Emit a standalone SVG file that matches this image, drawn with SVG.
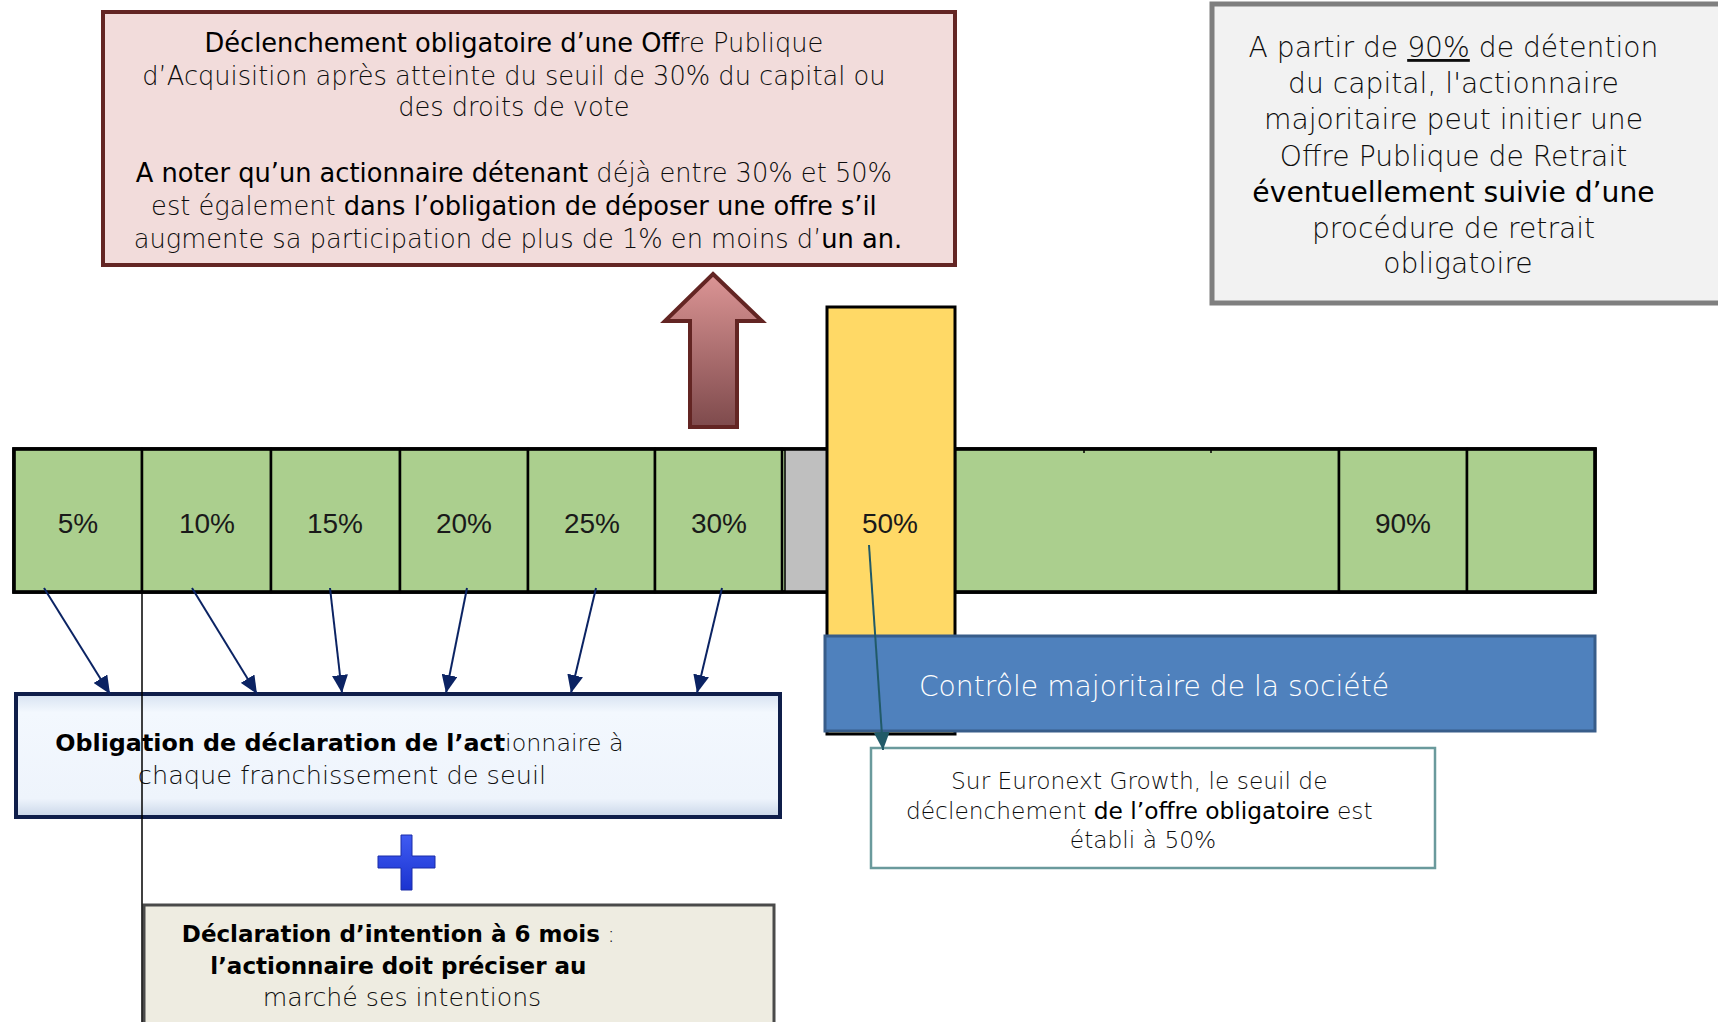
<svg xmlns="http://www.w3.org/2000/svg" width="1718" height="1022" viewBox="0 0 1718 1022">
<defs>
<style>
text{font-family:"DejaVu Sans","Liberation Sans",sans-serif;}
.l{fill:#0d0d0d;font-weight:300;}
.d{fill:#000;}
.b{fill:#000;font-weight:bold;}
.cell{fill:#ABCF8E;stroke:#000;stroke-width:2.5;}
.lbl{font-family:"Liberation Sans",Arial,sans-serif;font-size:28px;fill:#1a1a1a;text-anchor:middle;}
.nav{stroke:#0B2363;stroke-width:2;fill:none;marker-end:url(#an);}
</style>
<marker id="an" markerUnits="userSpaceOnUse" markerWidth="20" markerHeight="16" refX="18" refY="8" orient="auto">
<path d="M0,0 L18,8 L0,16 Z" fill="#0B2363"/>
</marker>
<marker id="at" markerUnits="userSpaceOnUse" markerWidth="20" markerHeight="16" refX="18" refY="8" orient="auto">
<path d="M0,0 L18,8 L0,16 Z" fill="#215A68"/>
</marker>
<linearGradient id="gArrow" x1="0" y1="0" x2="0" y2="1">
<stop offset="0" stop-color="#DC9595"/>
<stop offset="1" stop-color="#7E4A4C"/>
</linearGradient>
<linearGradient id="gDecl" x1="0" y1="0" x2="0" y2="1">
<stop offset="0" stop-color="#D6E2F1"/>
<stop offset="0.15" stop-color="#F3F8FE"/>
<stop offset="0.85" stop-color="#EEF4FC"/>
<stop offset="1" stop-color="#C9D6E8"/>
</linearGradient>
<linearGradient id="gPlus" x1="0" y1="0" x2="0" y2="1">
<stop offset="0" stop-color="#3F5BF2"/>
<stop offset="1" stop-color="#1B33D0"/>
</linearGradient>
</defs>
<rect width="1718" height="1022" fill="#fff"/>

<g id="node-offre">
<rect x="103" y="12" width="852" height="253" fill="#F2DCDB" stroke="#632523" stroke-width="4"/>
<text font-size="25.7" text-anchor="middle">
<tspan x="518" y="52"><tspan class="d">Déclenchement obligatoire d’une Off</tspan><tspan class="l">re Publique</tspan></tspan>
<tspan x="518" y="85" class="l">d’Acquisition après atteinte du seuil de 30% du capital ou</tspan>
<tspan x="518" y="116" class="l">des droits de vote</tspan>
<tspan x="518" y="182"><tspan class="d">A noter qu’un actionnaire détenant</tspan><tspan class="l"> déjà entre 30% et 50%</tspan></tspan>
<tspan x="518" y="215"><tspan class="l">est également </tspan><tspan class="d">dans l’obligation de déposer une offre s’il</tspan></tspan>
<tspan x="518" y="248"><tspan class="l">augmente sa participation de plus de 1% en moins d’</tspan><tspan class="d">un an.</tspan></tspan>
</text>
</g>

<g id="node-retrait">
<rect x="1212" y="4" width="516" height="299" fill="#F2F2F2" stroke="#7F7F7F" stroke-width="5"/>
<text font-size="28.2" text-anchor="middle">
<tspan x="1458" y="57" class="l">A partir de <tspan text-decoration="underline">90%</tspan> de détention</tspan>
<tspan x="1458" y="93" class="l">du capital, l'actionnaire</tspan>
<tspan x="1458" y="129" class="l">majoritaire peut initier une</tspan>
<tspan x="1458" y="166" class="l">Offre Publique de Retrait</tspan>
<tspan x="1458" y="202" class="d">éventuellement suivie d’une</tspan>
<tspan x="1458" y="238" class="l">procédure de retrait</tspan>
<tspan x="1458" y="273" class="l">obligatoire</tspan>
</text>
</g>

<g id="node-fleche">
<polygon points="713,274 762,321 737,321 737,427 690,427 690,321 665,321" fill="url(#gArrow)" stroke="#632523" stroke-width="4" stroke-linejoin="miter"/>
</g>

<g id="node-barre">
<rect x="14" y="449" width="1581" height="143" fill="#ABCF8E" stroke="#000" stroke-width="3.5"/>
<rect class="cell" x="14" y="449" width="128" height="143"/>
<rect class="cell" x="142" y="449" width="129" height="143"/>
<rect class="cell" x="271" y="449" width="129" height="143"/>
<rect class="cell" x="400" y="449" width="128" height="143"/>
<rect class="cell" x="528" y="449" width="127" height="143"/>
<rect class="cell" x="655" y="449" width="127" height="143"/>
<rect x="785" y="449" width="42" height="143" fill="#BFBFBF" stroke="#000" stroke-width="1.5"/>
<rect class="cell" x="955" y="449" width="384" height="143"/>
<rect class="cell" x="1339" y="449" width="128" height="143"/>
<rect class="cell" x="1467" y="449" width="128" height="143"/>
<path d="M1084,449 v4 M1211,449 v4" stroke="#000" stroke-width="1.5"/>
<rect x="14" y="449" width="1581" height="143" fill="none" stroke="#000" stroke-width="3.5"/>
<text class="lbl" x="78" y="533">5%</text>
<text class="lbl" x="207" y="533">10%</text>
<text class="lbl" x="335" y="533">15%</text>
<text class="lbl" x="464" y="533">20%</text>
<text class="lbl" x="592" y="533">25%</text>
<text class="lbl" x="719" y="533">30%</text>
<text class="lbl" x="1403" y="533">90%</text>
</g>

<g id="node-50">
<rect x="827" y="307" width="128" height="427" fill="#FFD966" stroke="#000" stroke-width="3"/>
<text class="lbl" x="890" y="533">50%</text>
</g>

<g id="node-controle">
<rect x="825" y="636" width="770" height="95" fill="#4F81BD" stroke="#385D8A" stroke-width="3"/>
<text x="1154" y="696" font-size="28.2" fill="#fff" font-weight="300" text-anchor="middle">Contrôle majoritaire de la société</text>
</g>

<g id="node-euronext">
<rect x="871" y="748" width="564" height="120" fill="#fff" stroke="#6A9A9C" stroke-width="2.5"/>
<text font-size="23.3" text-anchor="middle">
<tspan x="1143" y="789" class="l">Sur Euronext Growth, le seuil de</tspan>
<tspan x="1143" y="819"><tspan class="l">déclenchement </tspan><tspan class="d">de l’offre obligatoire</tspan><tspan class="l"> est</tspan></tspan>
<tspan x="1143" y="848" class="l">établi à 50%</tspan>
</text>
</g>

<g id="node-declaration">
<rect x="16" y="694" width="764" height="123" fill="url(#gDecl)" stroke="#0F1E4A" stroke-width="4"/>
<text text-anchor="middle">
<tspan x="342" y="751" font-size="23.8"><tspan class="b">Obligation de déclaration de l’act</tspan><tspan class="l">ionnaire à</tspan></tspan>
<tspan x="342" y="784" font-size="25.6" class="l">chaque franchissement de seuil</tspan>
</text>
</g>

<g id="node-plus">
<path d="M401,835 h11 v21 h23 v12 h-23 v22 h-11 v-22 h-23 v-12 h23 Z" fill="url(#gPlus)" stroke="#1A2CA8" stroke-width="1"/>
</g>

<g id="node-intention">
<rect x="144" y="905" width="630" height="125" fill="#EEECE1" stroke="#4A4A4A" stroke-width="3"/>
<text font-size="23" text-anchor="middle">
<tspan x="402" y="942"><tspan class="b">Déclaration d’intention à 6 mois</tspan><tspan class="l"> :</tspan></tspan>
<tspan x="402" y="974" class="b">l’actionnaire doit préciser au</tspan>
<tspan x="402" y="1006" font-size="25.2" class="l">marché ses intentions</tspan>
</text>
</g>

<g id="connectors">
<line class="nav" x1="44" y1="588" x2="110" y2="694"/>
<line class="nav" x1="192" y1="588" x2="257" y2="694"/>
<line class="nav" x1="330" y1="588" x2="342" y2="693"/>
<line class="nav" x1="467" y1="588" x2="446" y2="693"/>
<line class="nav" x1="596" y1="588" x2="571" y2="693"/>
<line class="nav" x1="722" y1="588" x2="697" y2="693"/>
<line x1="869" y1="545" x2="883" y2="750" stroke="#215A68" stroke-width="2" marker-end="url(#at)"/>
<line x1="142" y1="561" x2="142" y2="1022" stroke="#000" stroke-width="1.5"/>
</g>
</svg>
